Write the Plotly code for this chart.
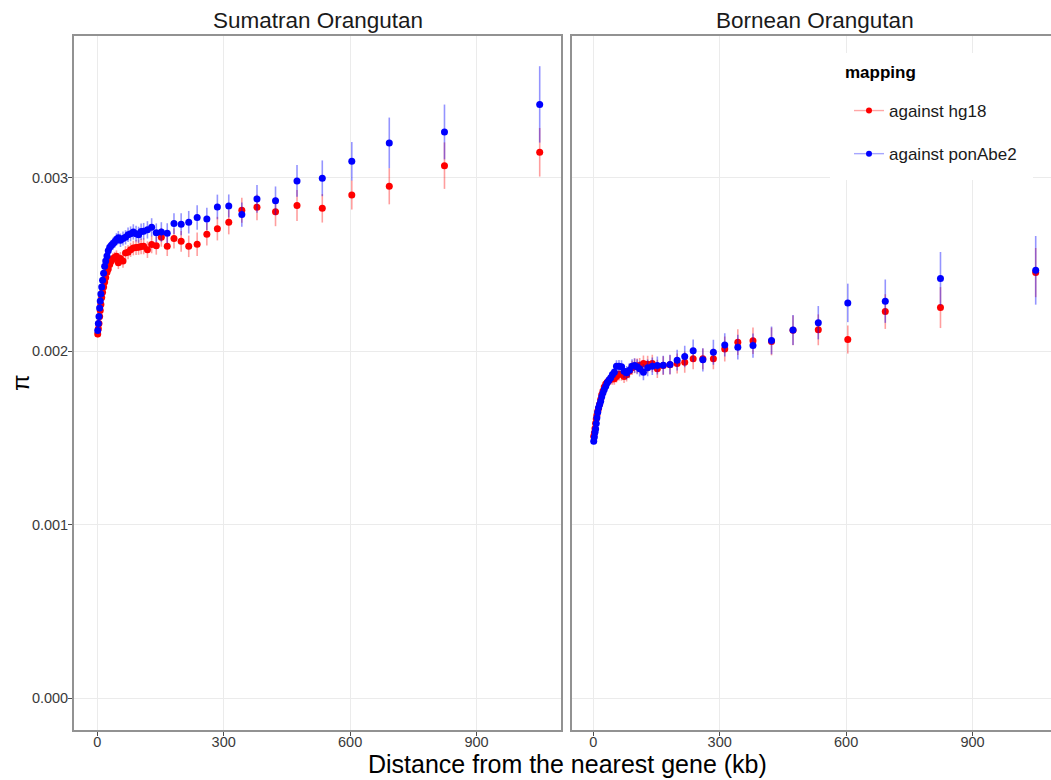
import plotly.graph_objects as go

# Mean distance (kb) of each distance bin to the nearest gene
distance_kb = [1, 2.5, 4, 5.5, 7, 8.5, 10.5, 12.5, 15, 17.5,
               20, 23, 26, 29.5, 33, 37, 41, 45.5, 50, 55,
               61, 67, 73, 79, 85.5, 92, 98, 104, 110, 119,
               129, 140, 152, 166, 182, 199, 217, 237, 260, 285,
               312, 343, 379, 423, 474, 534, 604, 693, 824, 1050]

# Nucleotide diversity pi (x 1e-3) per bin, Sumatran orangutan
sum_hg18 = [2.10, 2.13, 2.16, 2.20, 2.235, 2.27, 2.31, 2.34, 2.37, 2.40,
            2.425, 2.455, 2.475, 2.50, 2.52, 2.533, 2.54, 2.548, 2.51, 2.535,
            2.52, 2.567, 2.571, 2.585, 2.595, 2.598, 2.60, 2.604, 2.605, 2.586,
            2.615, 2.609, 2.657, 2.605, 2.650, 2.634, 2.605, 2.617, 2.675, 2.707,
            2.744, 2.813, 2.830, 2.804, 2.840, 2.824, 2.901, 2.951, 3.070, 3.147]
sum_ponabe2 = [2.12, 2.16, 2.20, 2.25, 2.29, 2.33, 2.37, 2.41, 2.45, 2.49,
               2.52, 2.55, 2.58, 2.60, 2.61, 2.62, 2.63, 2.645, 2.655, 2.64,
               2.65, 2.657, 2.672, 2.677, 2.688, 2.678, 2.672, 2.69, 2.692, 2.70,
               2.715, 2.683, 2.688, 2.68, 2.736, 2.732, 2.744, 2.771, 2.763, 2.832,
               2.838, 2.788, 2.878, 2.867, 2.982, 2.997, 3.095, 3.201, 3.264, 3.423]

# Nucleotide diversity pi (x 1e-3) per bin, Bornean orangutan
bor_hg18 = [1.51, 1.53, 1.555, 1.585, 1.61, 1.632, 1.655, 1.672, 1.695, 1.722,
            1.75, 1.772, 1.795, 1.812, 1.822, 1.832, 1.84, 1.84, 1.842, 1.855,
            1.868, 1.868, 1.855, 1.865, 1.885, 1.905, 1.916, 1.916, 1.918, 1.93,
            1.926, 1.93, 1.899, 1.918, 1.922, 1.93, 1.937, 1.957, 1.957, 1.957,
            2.014, 2.053, 2.061, 2.057, 2.121, 2.124, 2.068, 2.229, 2.252, 2.454]
bor_ponabe2 = [1.482, 1.507, 1.534, 1.553, 1.584, 1.617, 1.649, 1.675, 1.694, 1.713,
               1.738, 1.761, 1.780, 1.799, 1.819, 1.834, 1.847, 1.866, 1.880, 1.914,
               1.914, 1.911, 1.885, 1.876, 1.891, 1.914, 1.918, 1.911, 1.899, 1.880,
               1.905, 1.914, 1.918, 1.920, 1.924, 1.949, 1.970, 2.003, 1.951, 1.995,
               2.037, 2.024, 2.033, 2.063, 2.123, 2.165, 2.279, 2.289, 2.419, 2.467]

# Error-bar half widths (x 1e-3)
sum_hg18_err = [0.020, 0.020, 0.021, 0.021, 0.022, 0.022, 0.023, 0.024, 0.025, 0.026,
                0.027, 0.028, 0.029, 0.030, 0.031, 0.032, 0.033, 0.034, 0.036, 0.037,
                0.038, 0.039, 0.040, 0.041, 0.042, 0.043, 0.044, 0.045, 0.046, 0.048,
                0.050, 0.052, 0.054, 0.056, 0.058, 0.060, 0.062, 0.067, 0.065, 0.068,
                0.070, 0.072, 0.074, 0.083, 0.089, 0.082, 0.084, 0.104, 0.134, 0.140]
sum_ponabe2_err = [0.020, 0.020, 0.021, 0.022, 0.022, 0.023, 0.024, 0.025, 0.026, 0.027,
                   0.028, 0.029, 0.030, 0.031, 0.032, 0.034, 0.035, 0.036, 0.038, 0.039,
                   0.040, 0.041, 0.042, 0.043, 0.044, 0.045, 0.046, 0.047, 0.048, 0.050,
                   0.052, 0.054, 0.056, 0.058, 0.060, 0.063, 0.065, 0.071, 0.064, 0.071,
                   0.066, 0.070, 0.080, 0.083, 0.091, 0.103, 0.111, 0.146, 0.158, 0.220]
bor_hg18_err = [0.018, 0.018, 0.019, 0.019, 0.020, 0.021, 0.022, 0.023, 0.024, 0.025,
                0.026, 0.027, 0.028, 0.029, 0.030, 0.031, 0.032, 0.033, 0.034, 0.035,
                0.036, 0.037, 0.038, 0.039, 0.040, 0.041, 0.042, 0.043, 0.044, 0.046,
                0.048, 0.050, 0.052, 0.054, 0.056, 0.058, 0.060, 0.060, 0.060, 0.060,
                0.072, 0.074, 0.077, 0.080, 0.086, 0.089, 0.081, 0.100, 0.118, 0.142]
bor_ponabe2_err = [0.018, 0.018, 0.019, 0.020, 0.020, 0.021, 0.022, 0.023, 0.024, 0.025,
                   0.026, 0.027, 0.028, 0.029, 0.030, 0.031, 0.032, 0.033, 0.034, 0.035,
                   0.036, 0.037, 0.038, 0.039, 0.040, 0.041, 0.042, 0.043, 0.044, 0.046,
                   0.048, 0.050, 0.052, 0.054, 0.056, 0.060, 0.062, 0.065, 0.067, 0.072,
                   0.067, 0.071, 0.070, 0.080, 0.086, 0.096, 0.111, 0.125, 0.154, 0.198]

panel_titles = ["Sumatran Orangutan", "Bornean Orangutan"]
mapping_labels = ["against hg18", "against ponAbe2"]
y_ticks = [0.0, 0.001, 0.002, 0.003]
y_tick_text = ["0.000", "0.001", "0.002", "0.003"]
x_ticks = [0, 300, 600, 900]

W, H = 1051, 780
FONT = "Liberation Sans"
RED, BLUE = "#FF0000", "#0000FF"
RED_BAR, BLUE_BAR = "rgba(255,0,0,0.38)", "rgba(0,0,255,0.42)"


def fx(p):
    return p / W


def fy(p):
    return 1 - p / H


def scaled(vals):
    return [v * 1e-3 for v in vals]


fig = go.Figure()

panels = [
    ("x", "y", sum_hg18, sum_hg18_err, sum_ponabe2, sum_ponabe2_err),
    ("x2", "y2", bor_hg18, bor_hg18_err, bor_ponabe2, bor_ponabe2_err),
]
for xa, ya, red_y, red_e, blue_y, blue_e in panels:
    for yv, ev, col, bar in ((red_y, red_e, RED, RED_BAR), (blue_y, blue_e, BLUE, BLUE_BAR)):
        fig.add_trace(go.Scatter(
            x=distance_kb, y=scaled(yv), mode="markers",
            marker=dict(color=col, size=7, line=dict(width=0)),
            error_y=dict(type="data", array=scaled(ev), color=bar, thickness=1.6, width=0),
            xaxis=xa, yaxis=ya, showlegend=False, hoverinfo="skip",
        ))

# legend keys: point with a faint line through it
for name, col, bar, grp in ((mapping_labels[0], RED, "rgba(255,0,0,0.35)", "a"),
                            (mapping_labels[1], BLUE, "rgba(0,0,255,0.35)", "b")):
    fig.add_trace(go.Scatter(
        x=[None], y=[None], mode="lines+markers", name=name, legendgroup=grp,
        line=dict(color=bar, width=1.4), marker=dict(color=col, size=6),
        xaxis="x2", yaxis="y2",
    ))

grid = "#EBEBEB"
border = "#929292"
tickfont = dict(family=FONT, size=14.5, color="#3A3A3A")
px_per_kb = 126.4 / 300

xcommon = dict(tickvals=x_ticks, showgrid=True, gridcolor=grid, gridwidth=1.1,
               zeroline=False, showline=True, linecolor=border, linewidth=1.8,
               mirror=True, ticks="outside", ticklen=4, tickcolor="#4D4D4D",
               tickwidth=1, tickfont=tickfont, automargin=False,
               ticklabelstandoff=-6)


def label(text, x, y, size, **kw):
    return dict(text=text, x=fx(x), y=fy(y), xref="paper", yref="paper",
                xanchor=kw.pop("xanchor", "center"), yanchor="middle",
                showarrow=False, font=dict(family=FONT, size=size,
                                           color=kw.pop("color", "#000")), **kw)


fig.update_layout(
    width=W, height=H,
    margin=dict(l=0, r=0, t=0, b=0),
    paper_bgcolor="white", plot_bgcolor="white",
    font=dict(family=FONT),
    xaxis=dict(domain=[fx(74), fx(561)],
               range=[(74 - 97.3) / px_per_kb, (561 - 97.3) / px_per_kb],
               anchor="y", **xcommon),
    xaxis2=dict(domain=[fx(571.7), 1.0],
                range=[(571.7 - 593.3) / px_per_kb, (1051 - 593.3) / px_per_kb],
                anchor="y2", **xcommon),
    yaxis=dict(domain=[fy(730), fy(36)], range=[-0.000182, 0.003817],
               tickvals=y_ticks, ticktext=y_tick_text, showgrid=True,
               gridcolor=grid, gridwidth=1.1, zeroline=False, showline=True,
               linecolor=border, linewidth=1.8, mirror=True, ticks="outside",
               ticklen=4, tickcolor="#4D4D4D", tickwidth=1, tickfont=tickfont,
               anchor="x", automargin=False, ticklabelstandoff=-3),
    yaxis2=dict(domain=[fy(730), fy(36)], matches="y", tickvals=y_ticks,
                showticklabels=False, ticks="", showgrid=True, gridcolor=grid,
                gridwidth=1.1, zeroline=False, showline=True, linecolor=border,
                linewidth=1.8, mirror=False, anchor="x2", automargin=False),
    legend=dict(
        x=fx(849), y=fy(93), xanchor="left", yanchor="top",
        bgcolor="rgba(255,255,255,0)", borderwidth=0,
        font=dict(family=FONT, size=17, color="#1A1A1A"),
        tracegroupgap=18, itemwidth=30,
    ),
    shapes=[dict(type="rect", xref="paper", yref="paper",
                 x0=fx(830), x1=fx(1033), y0=fy(180), y1=fy(53),
                 fillcolor="white", line=dict(width=0), layer="above")],
    annotations=[
        label(panel_titles[0], 317.5, 20, 22.5, color="#1A1A1A"),
        label(panel_titles[1], 815, 20, 22.5, color="#1A1A1A"),
        label("Distance from the nearest gene (kb)", 567, 764, 25),
        label("π", 20, 383, 24, textangle=-90),
        label("<b>mapping</b>", 843, 72, 17, xanchor="left"),
    ],
)

fig.write_html("out.html")
